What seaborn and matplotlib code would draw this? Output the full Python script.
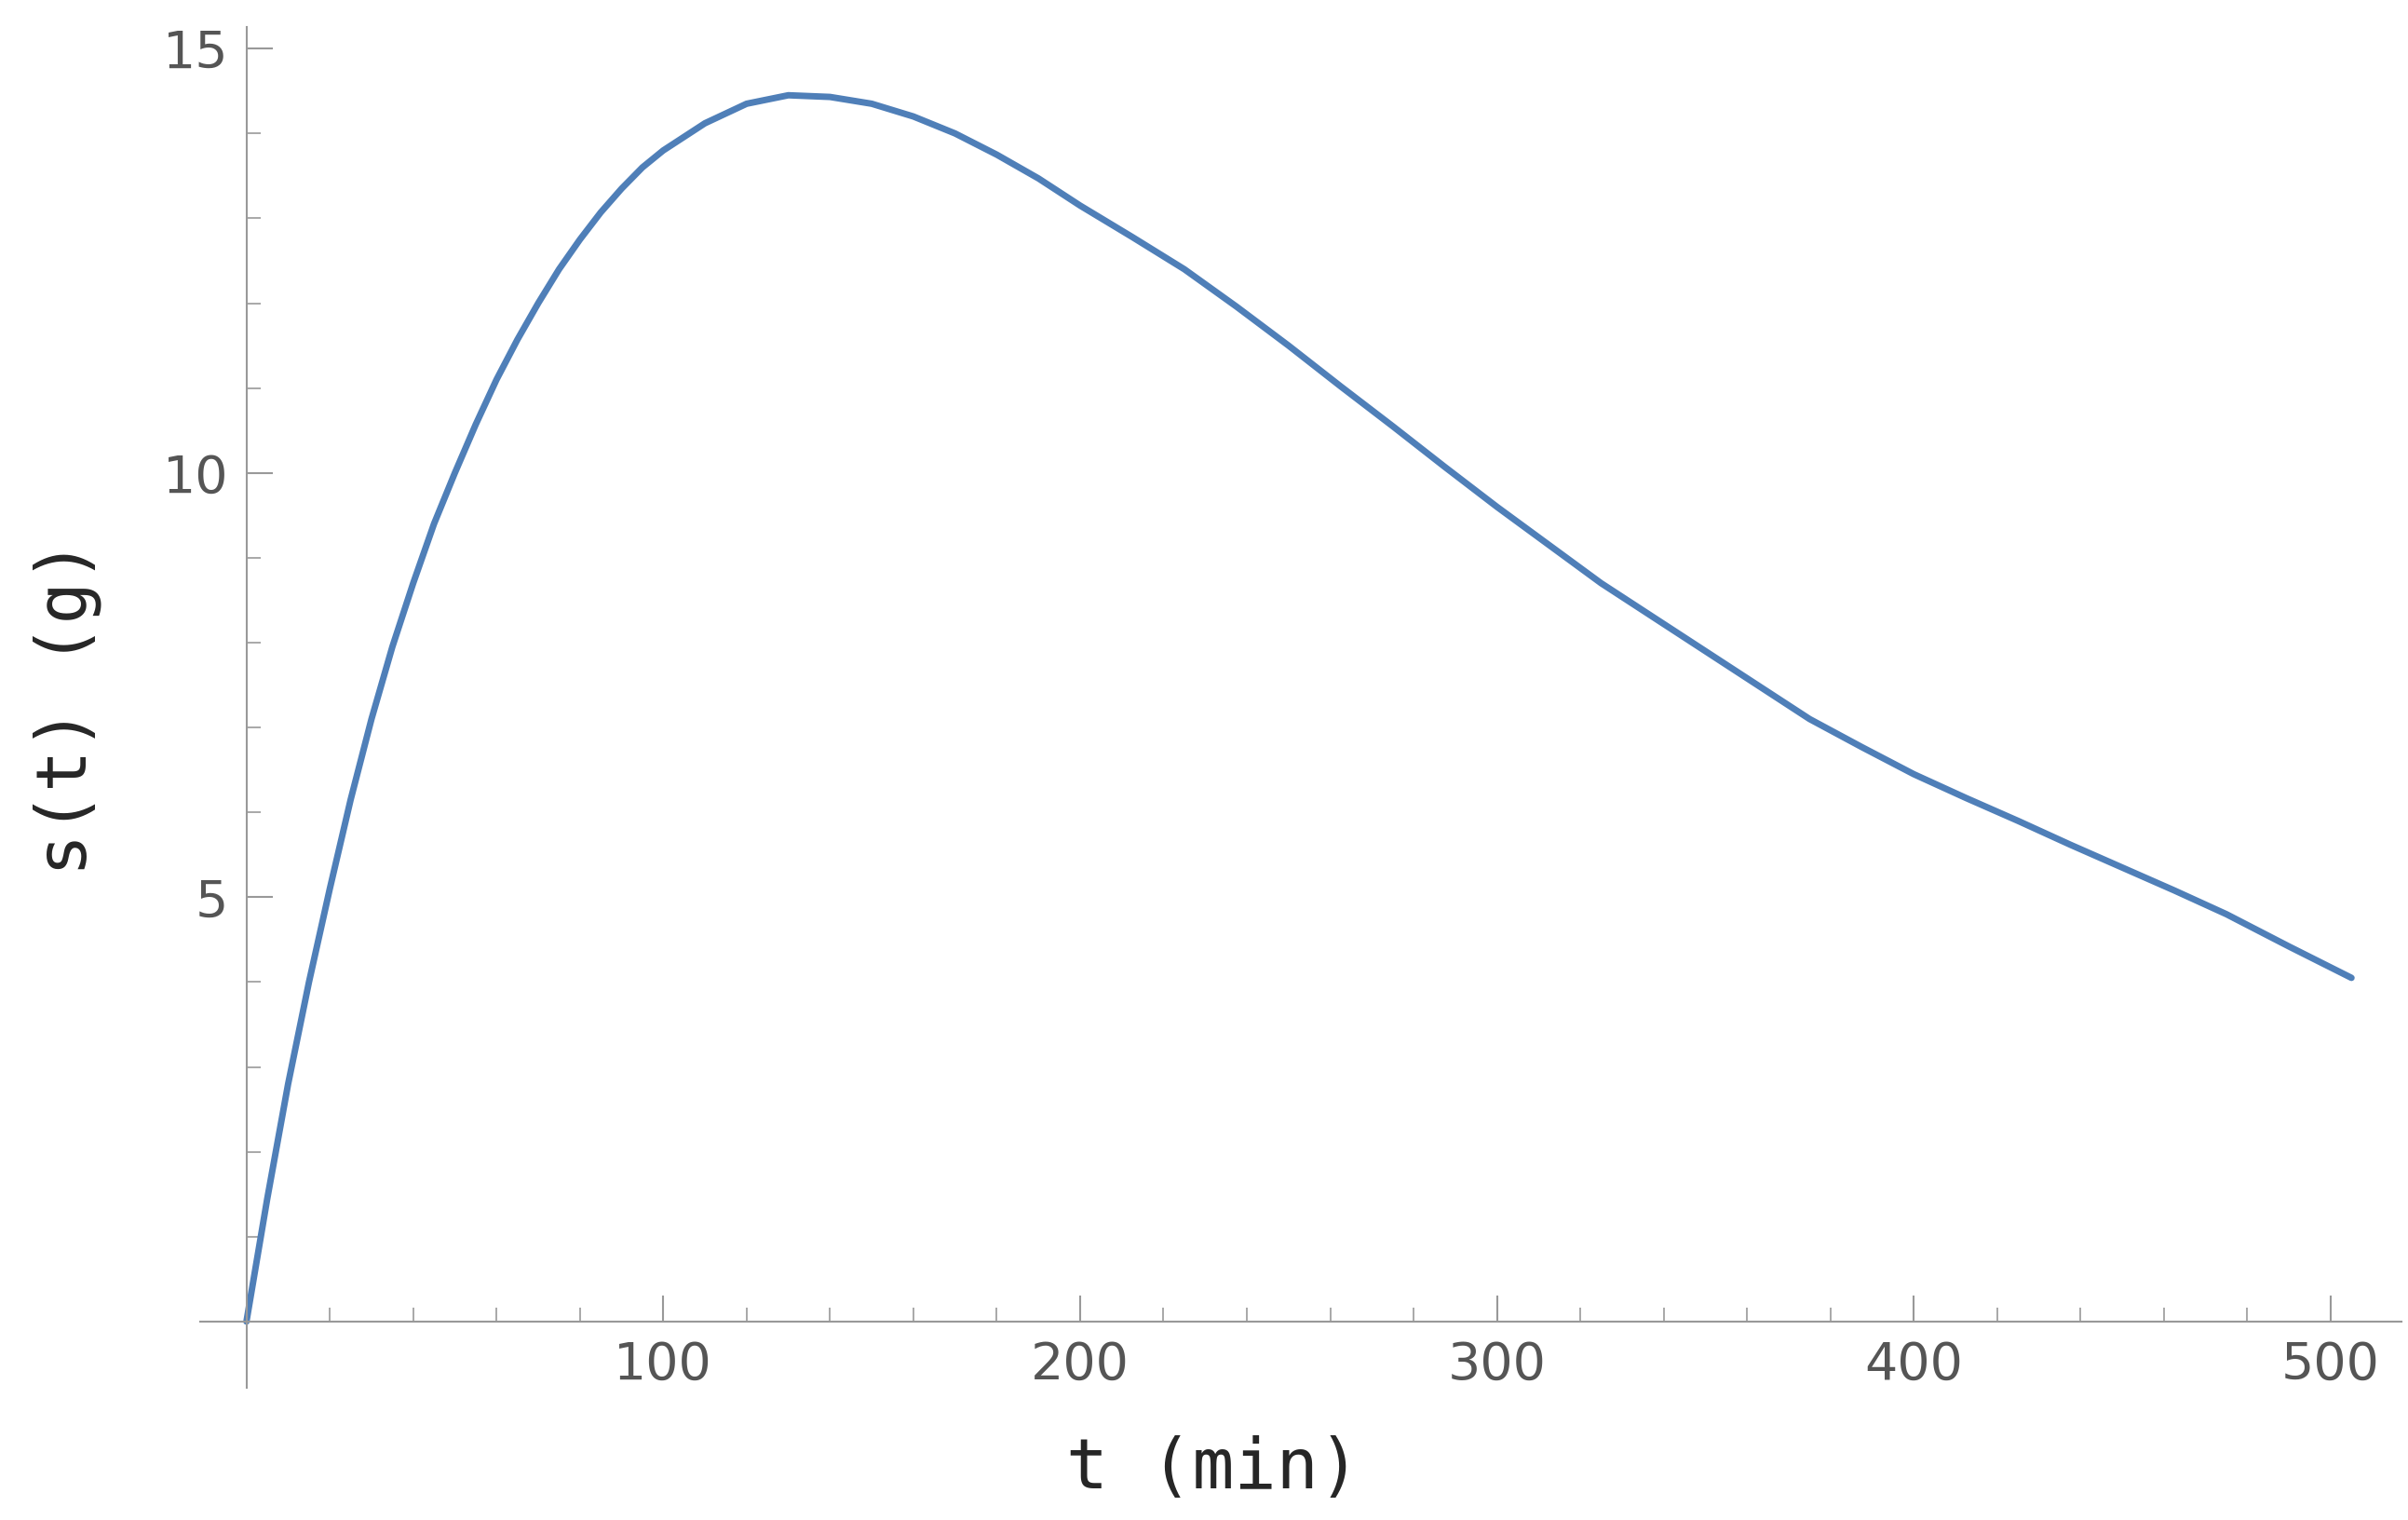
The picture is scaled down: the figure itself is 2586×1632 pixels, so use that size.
import matplotlib
matplotlib.use("Agg")
import matplotlib.pyplot as plt
import seaborn as sns
import pandas as pd
from matplotlib.ticker import MultipleLocator, FixedLocator

t_min = [0, 5, 10, 15, 20, 25, 30, 35, 40, 45, 50, 55, 60, 65, 70, 75, 80, 85, 90, 95,
         100, 110, 120, 130, 140, 150, 160, 170, 180, 190, 200, 212.5, 225, 237.5, 250,
         262.5, 275, 287.5, 300, 312.5, 325, 337.5, 350, 362.5, 375, 387.5, 400, 412.5,
         425, 437.5, 450, 462.5, 475, 490, 505]
s_g = [0, 1.45, 2.8, 4.0, 5.1, 6.15, 7.1, 7.95, 8.7, 9.4, 10.0, 10.57, 11.1, 11.57,
       12.0, 12.4, 12.75, 13.07, 13.35, 13.6, 13.8, 14.12, 14.35, 14.45, 14.43, 14.35,
       14.2, 14.0, 13.75, 13.47, 13.15, 12.78, 12.4, 11.96, 11.5, 11.02, 10.55, 10.07,
       9.6, 9.15, 8.7, 8.3, 7.9, 7.5, 7.1, 6.77, 6.45, 6.17, 5.9, 5.62, 5.35, 5.08,
       4.8, 4.42, 4.05]
x_ticks = [100, 200, 300, 400, 500]
y_ticks = [5, 10, 15]

sns.set_style("white")
df = pd.DataFrame({"t": t_min, "s": s_g})
fig = plt.figure(figsize=(25.86, 16.32), dpi=100)
ax = fig.add_axes([0.0833, 0.087, 0.914, 0.895])
sns.lineplot(data=df, x="t", y="s", ax=ax, color="#4F7FB8", linewidth=5)
ax.set_xlim(-11, 517)
ax.set_ylim(-0.78, 15.25)
ax.spines["left"].set_position(("data", 0))
ax.spines["bottom"].set_position(("data", 0))
for k in ["top", "right"]:
    ax.spines[k].set_visible(False)
for k in ["left", "bottom"]:
    ax.spines[k].set_color("#999999")
    ax.spines[k].set_linewidth(1.5)
ax.xaxis.set_major_locator(FixedLocator(x_ticks))
ax.yaxis.set_major_locator(FixedLocator(y_ticks))
ax.xaxis.set_minor_locator(MultipleLocator(20))
ax.yaxis.set_minor_locator(MultipleLocator(1))
ax.tick_params(which="both", bottom=True, left=True, direction="in", colors="#999999",
               labelcolor="#555555", labelsize=40)
ax.tick_params(which="major", length=20, width=1.5, pad=14)
ax.tick_params(which="minor", length=11, width=1.2)
ax.set_xlabel("t (min)", fontsize=54, family="DejaVu Sans Mono")
ax.set_ylabel("s(t) (g)", fontsize=54, family="DejaVu Sans Mono")
ax.xaxis.set_label_coords(0.46, -0.035)
ax.yaxis.set_label_coords(-0.045, 0.5)
fig.savefig("out.png", dpi=100)
